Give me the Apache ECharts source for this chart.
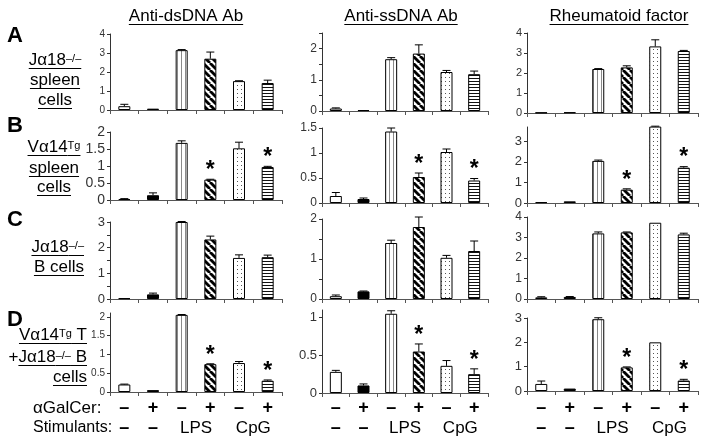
<!DOCTYPE html>
<html><head><meta charset="utf-8">
<script src="https://cdn.jsdelivr.net/npm/echarts@6/dist/echarts.min.js"></script>
<style>html,body{margin:0;padding:0;background:#fff}#c{width:707px;height:444px}</style>
</head><body><div id="c"></div>
<script>
// ---------------- data ----------------
const categories = ['1','2','3','4','5','6'];
const galcerLabels = ['–','+','–','+','–','+'];
const stimulantLabels = ['–','–','LPS','CpG'];
const stimulantSpans = [[0,0],[1,1],[2,3],[4,5]];
const columnTitles = ['Anti-dsDNA Ab','Anti-ssDNA Ab','Rheumatoid factor'];
const rowLetters = ['A','B','C','D'];

// Row A: Jα18-/- spleen cells
const dsA = [0.2, 0.07, 3.15, 2.7, 1.52, 1.42];
const dsAErr = [0.1, 0, 0.03, 0.35, 0.02, 0.15];
const ssA = [0.08, 0.03, 1.66, 1.84, 1.25, 1.18];
const ssAErr = [0.02, 0, 0.05, 0.28, 0.05, 0.1];
const rfA = [0.02, 0.03, 2.2, 2.28, 3.33, 3.1];
const rfAErr = [0, 0, 0.02, 0.08, 0.33, 0.03];
const starsA = [0,0,0,0,0,0];
// Row B: Vα14Tg spleen cells
const dsB = [0.03, 0.14, 1.68, 0.6, 1.52, 0.97];
const dsBErr = [0.01, 0.07, 0.06, 0.01, 0.18, 0.02];
const ssB = [0.14, 0.08, 1.43, 0.52, 1.02, 0.45];
const ssBErr = [0.07, 0.02, 0.07, 0.08, 0.06, 0.04];
const rfB = [0.04, 0.08, 2.05, 0.65, 3.72, 1.72];
const rfBErr = [0, 0, 0.04, 0.04, 0.02, 0.05];
const starsB = [0,0,0,1,0,1];
// Row C: Jα18-/- B cells
const dsC = [0.03, 0.18, 3.0, 2.32, 1.6, 1.63];
const dsCErr = [0, 0.05, 0.02, 0.13, 0.12, 0.08];
const ssC = [0.07, 0.19, 1.4, 1.8, 1.03, 1.2];
const ssCErr = [0.03, 0.01, 0.07, 0.25, 0.06, 0.25];
const rfC = [0.08, 0.1, 3.2, 3.25, 3.72, 3.15];
const rfCErr = [0.03, 0.02, 0.07, 0.02, 0, 0.06];
const starsC = [0,0,0,0,0,0];
// Row D: Vα14Tg T + Jα18-/- B cells
const dsD = [0.2, 0.05, 2.05, 0.74, 0.77, 0.3];
const dsDErr = [0.01, 0, 0.01, 0.01, 0.04, 0.02];
const ssD = [0.28, 0.1, 1.05, 0.55, 0.36, 0.25];
const ssDErr = [0.02, 0.02, 0.04, 0.1, 0.07, 0.07];
const rfD = [0.29, 0.1, 2.95, 0.97, 2.0, 0.43];
const rfDErr = [0.12, 0, 0.06, 0.02, 0, 0.05];
const starsD = [0,0,0,1,0,1];

// ---------------- layout / style ----------------
const FF = '"Liberation Sans", Arial, sans-serif';
const colX = [{left:110,width:172},{left:322,width:166},{left:527,width:171}];
// [topPx, zeroPx] for each panel
const rowY = [
  [[34,110],[33,111],[33,113]],
  [[132,200],[128,203],[127,203]],
  [[222,299],[219,299],[217,299]],
  [[313,392],[310,393],[318,391]]
];
const yCfg = [
  [{max:4,interval:1,fs:10},{max:2.5,interval:0.5,intOnly:true,fs:12},{max:4,interval:1,fs:11}],
  [{max:2,interval:0.5,fs:14},{max:1.5,interval:0.5,fs:12},{max:3.7,interval:1,hideMax:true,fs:13}],
  [{max:3,interval:0.5,intOnly:true,fs:13},{max:2,interval:0.5,intOnly:true,fs:12},{max:4,interval:1,fs:12}],
  [{max:2.1,interval:0.5,hideMax:true,fs:10},{max:1.1,interval:0.5,hideMax:true,fs:13},{max:3,interval:1,fs:13}]
];
const panelData = [
  [[dsA,dsAErr],[ssA,ssAErr],[rfA,rfAErr]],
  [[dsB,dsBErr],[ssB,ssBErr],[rfB,rfBErr]],
  [[dsC,dsCErr],[ssC,ssCErr],[rfC,rfCErr]],
  [[dsD,dsDErr],[ssD,ssDErr],[rfD,rfDErr]]
];
const rowStars = [starsA, starsB, starsC, starsD];

function makePattern(w,h,draw){
  const c=document.createElement('canvas'); c.width=w; c.height=h;
  const g=c.getContext('2d'); g.fillStyle='#fff'; g.fillRect(0,0,w,h); draw(g); return c;
}
const patVert = makePattern(4,2,g=>{g.fillStyle='#8a8a8a'; g.fillRect(1,0,1,2);});
const patHatch = makePattern(7,7,g=>{g.strokeStyle='#000'; g.lineWidth=2.8;
  for(const x0 of [-7,0,7]){g.beginPath(); g.moveTo(x0,0); g.lineTo(x0+7,7); g.stroke();}});
const patDots = makePattern(4,4,g=>{g.fillStyle='#555'; g.fillRect(1,1,1,1);});
const patHoriz = makePattern(2,3,g=>{g.fillStyle='#111'; g.fillRect(0,0,2,1);});
const fills = ['#ffffff','#000000',
  {image:patVert,repeat:'repeat'},{image:patHatch,repeat:'repeat'},
  {image:patDots,repeat:'repeat'},{image:patHoriz,repeat:'repeat'}];

const grids=[], xAxes=[], yAxes=[], series=[];
for(let r=0;r<4;r++){
  for(let c=0;c<3;c++){
    const k=r*3+c;
    const [top,zero]=rowY[r][c];
    grids.push({left:colX[c].left,width:colX[c].width,top:top,height:zero-top,containLabel:false});
    xAxes.push({gridIndex:k,type:'category',data:categories,boundaryGap:true,
      axisLine:{lineStyle:{color:'#555',width:1}},
      axisTick:{show:true,length:4,lineStyle:{color:'#555'}},
      axisLabel:{show:false}});
    const yc=yCfg[r][c];
    yAxes.push({gridIndex:k,type:'value',min:0,max:yc.max,interval:yc.interval,
      axisLine:{show:true,lineStyle:{color:'#333',width:1}},
      axisTick:{show:true,length:3,lineStyle:{color:'#333'}},
      splitLine:{show:false},
      axisLabel:{fontSize:yc.fs,color:'#333',margin:5,fontFamily:FF,
        showMaxLabel: yc.hideMax?false:true,
        formatter: v => yc.intOnly ? (Math.abs(v-Math.round(v))<1e-9 ? String(Math.round(v)) : '') : String(v)}});
    const [vals,errs]=panelData[r][c];
    const stars=rowStars[r];
    series.push({type:'bar',xAxisIndex:k,yAxisIndex:k,barWidth:12,
      data: vals.map((v,i)=>({value:v,itemStyle:{color:fills[i],borderColor:'#000',borderWidth:1}})),
      silent:true});
    series.push({type:'custom',xAxisIndex:k,yAxisIndex:k,z:5,silent:true,
      encode:{x:0,y:1},
      data: vals.map((v,i)=>[i,v,errs[i],stars[i]]),
      renderItem:(params,api)=>{
        const x=api.value(0), v=api.value(1), e=api.value(2), s=api.value(3);
        const p0=api.coord([x,v]), p1=api.coord([x,v+e]);
        const ch=[];
        if(e>0){
          ch.push({type:'line',shape:{x1:p0[0],y1:p0[1],x2:p1[0],y2:p1[1]},style:{stroke:'#000',lineWidth:1}});
          ch.push({type:'line',shape:{x1:p1[0]-4,y1:p1[1],x2:p1[0]+4,y2:p1[1]},style:{stroke:'#000',lineWidth:1}});
        }
        if(s){
          ch.push({type:'text',style:{text:'*',x:p1[0],y:p1[1]-20,align:'center',verticalAlign:'top',
            font:'bold 23px '+FF,fill:'#000'}});
        }
        return {type:'group',children:ch};
      }});
  }
}

const chart = echarts.init(document.getElementById('c'),null,{renderer:'canvas'});
chart.setOption({animation:false,backgroundColor:'#fff',grid:grids,xAxis:xAxes,yAxis:yAxes,series:series});

// ---------------- text graphics ----------------
const mctx = document.createElement('canvas').getContext('2d');
function measure(t,size,bold){ mctx.font=(bold?'bold ':'')+size+'px '+FF; return mctx.measureText(t).width; }
const G=[];
function textLine(x,uy,align,segs,size){
  size=size||17;
  const ws=segs.map(s=>measure(s.t,s.sup?11:size));
  const W=ws.reduce((a,b)=>a+b,0);
  let cx = align==='center'? x-W/2 : align==='right'? x-W : x;
  segs.forEach((s,i)=>{
    G.push({type:'text',silent:true,x:cx,y: s.sup? uy-4 : uy+1,
      style:{text:s.t,font:(s.sup?11:size)+'px '+FF,fill:'#000',align:'left',verticalAlign:'bottom'}});
    if(s.u) G.push({type:'line',silent:true,shape:{x1:cx,y1:uy+0.5,x2:cx+ws[i],y2:uy+0.5},style:{stroke:'#000',lineWidth:1}});
    cx+=ws[i];
  });
}
// column titles
const titleCx=[186,401,619];
columnTitles.forEach((t,i)=>textLine(titleCx[i],24,'center',[{t:t,u:1}],17));
// row letters
const letterY=[25,115,209,309];
rowLetters.forEach((L,i)=>G.push({type:'text',silent:true,x:7,y:letterY[i],
  style:{text:L,font:'bold 22px '+FF,fill:'#000',align:'left',verticalAlign:'top'}}));
// row labels
textLine(55,68,'center',[{t:'Jα18',u:1},{t:'–/–',sup:1,u:1}]);
textLine(55,88,'center',[{t:'spleen',u:1}]);
textLine(55,108,'center',[{t:'cells',u:1}]);
textLine(54,155,'center',[{t:'Vα14',u:1},{t:'Tg',sup:1,u:1}]);
textLine(54,176,'center',[{t:'spleen',u:1}]);
textLine(54,195,'center',[{t:'cells',u:1}]);
textLine(84,255,'right',[{t:'Jα18',u:1},{t:'–/–',sup:1,u:1}]);
textLine(84,275,'right',[{t:'B cells',u:1}]);
textLine(87,343,'right',[{t:'Vα14',u:1},{t:'Tg',sup:1,u:1},{t:' T',u:1}]);
textLine(87,365,'right',[{t:'+',u:0},{t:'Jα18',u:1},{t:'–/–',sup:1,u:1},{t:' B',u:1}]);
textLine(87,385,'right',[{t:'cells',u:1}]);
// bottom labels
G.push({type:'text',silent:true,x:33,y:408,style:{text:'αGalCer:',font:'17px '+FF,fill:'#000',align:'left',verticalAlign:'middle'}});
G.push({type:'text',silent:true,x:33,y:428,style:{text:'Stimulants:',font:'16px '+FF,fill:'#000',align:'left',verticalAlign:'middle'}});
for(let c=0;c<3;c++){
  const k=9+c;
  galcerLabels.forEach((lab,i)=>{
    const px=chart.convertToPixel({xAxisIndex:k},i);
    G.push({type:'text',silent:true,x:px,y:408,style:{text:lab,font:'bold 18px '+FF,fill:'#000',align:'center',verticalAlign:'middle'}});
  });
  stimulantLabels.forEach((lab,j)=>{
    const a=chart.convertToPixel({xAxisIndex:k},stimulantSpans[j][0]);
    const b=chart.convertToPixel({xAxisIndex:k},stimulantSpans[j][1]);
    const isDash = lab==='–';
    G.push({type:'text',silent:true,x:(a+b)/2,y:428,style:{text:lab,font:(isDash?'bold 18px ':'17px ')+FF,fill:'#000',align:'center',verticalAlign:'middle'}});
  });
}
chart.setOption({graphic:G});
</script></body></html>
